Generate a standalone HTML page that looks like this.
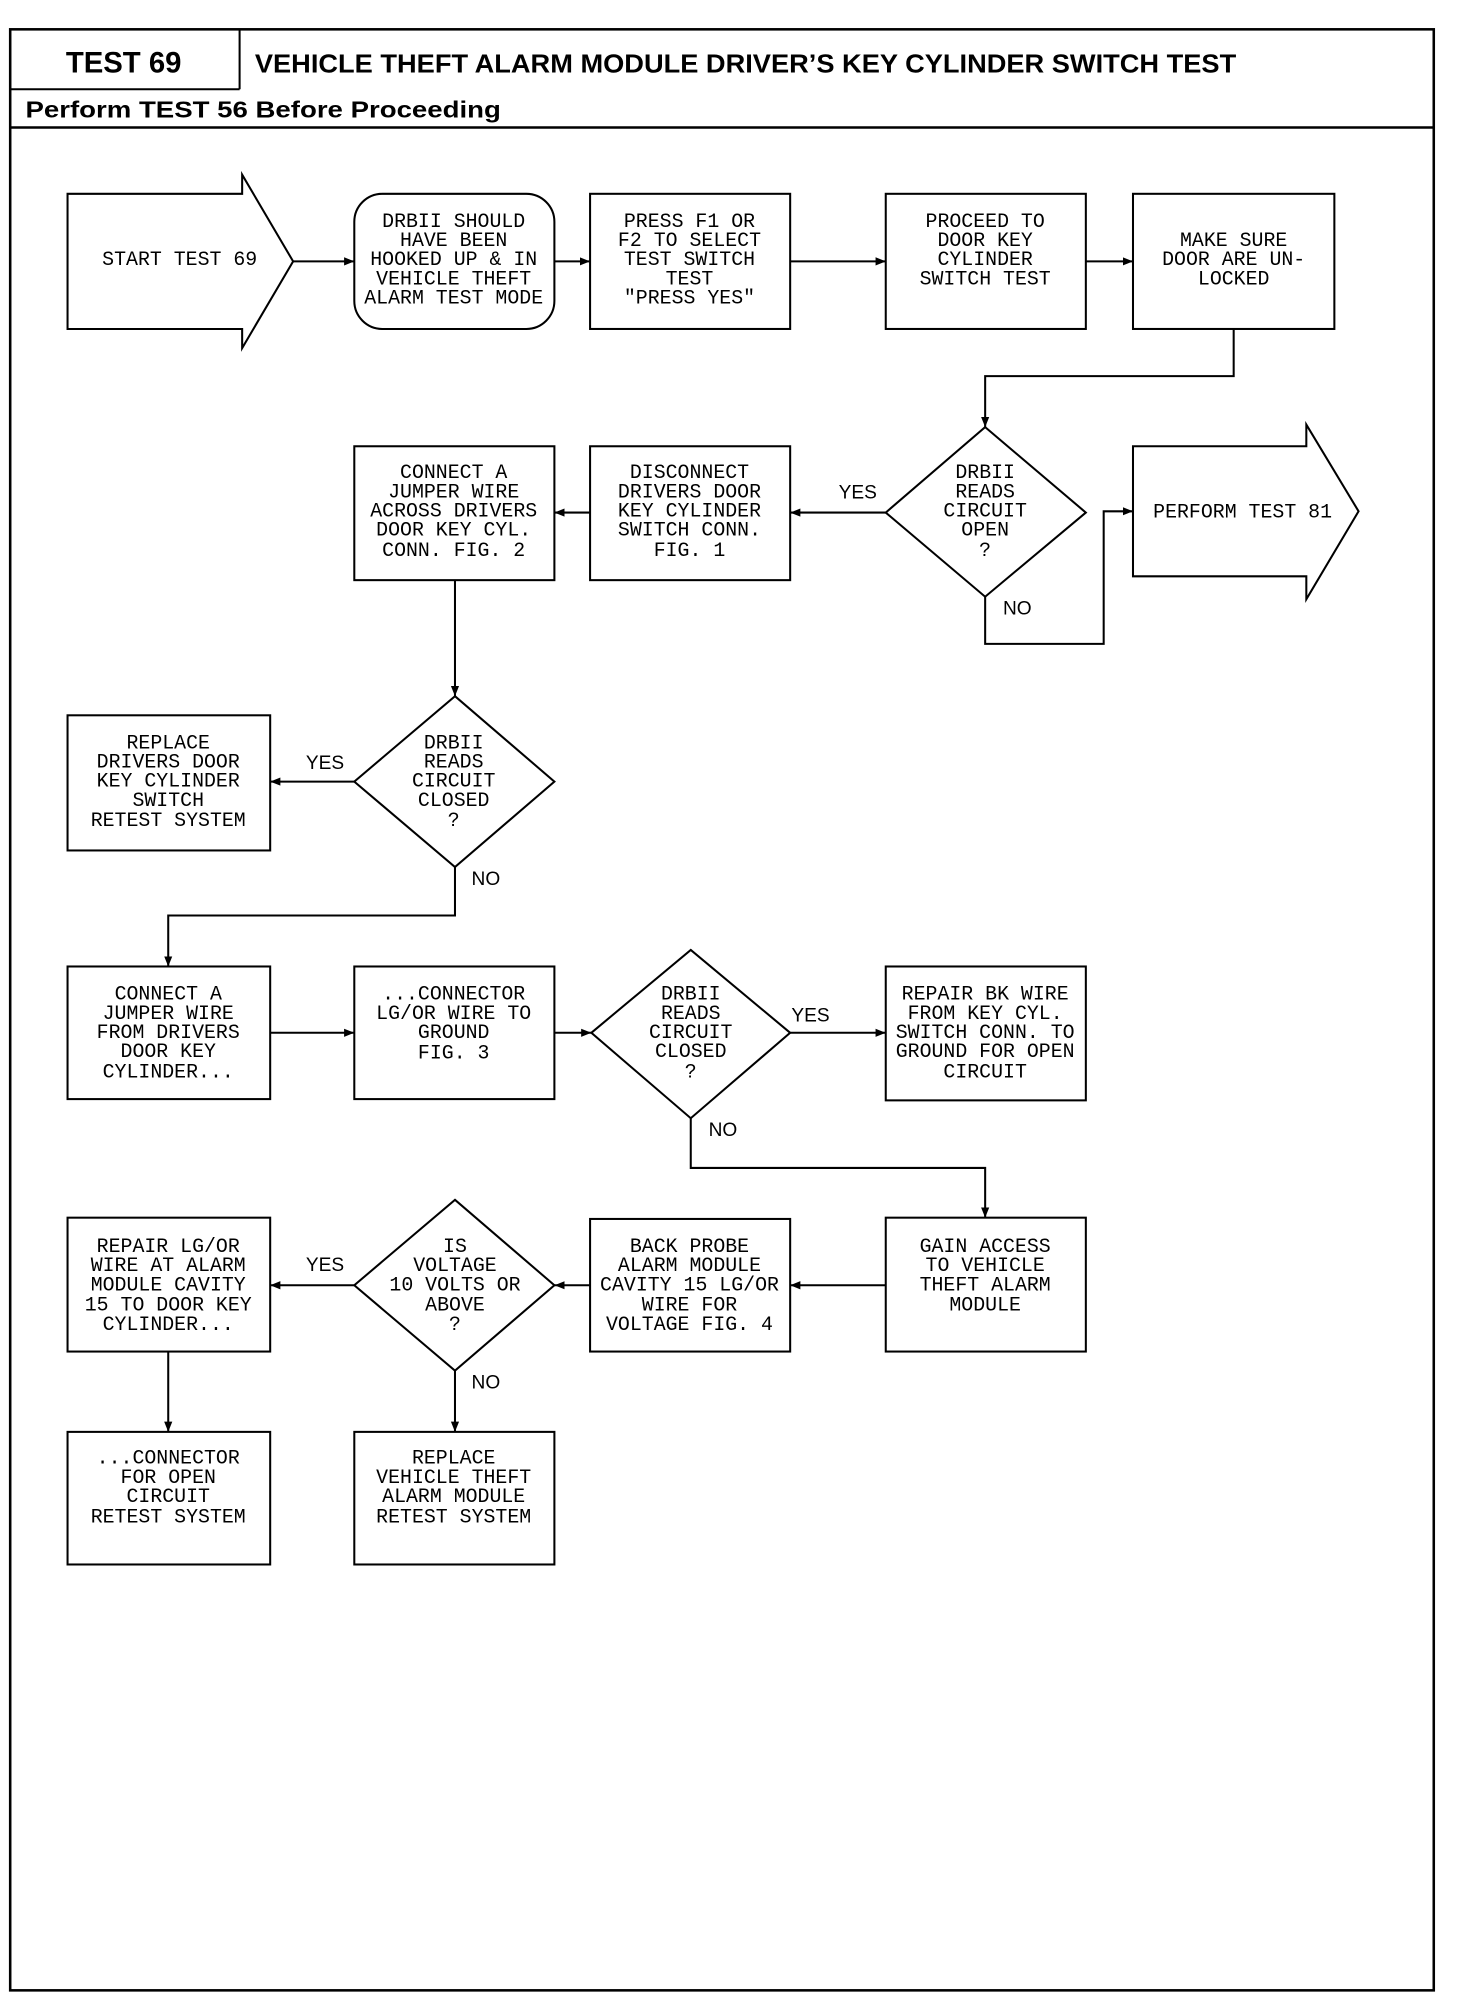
<!DOCTYPE html>
<html><head><meta charset="utf-8"><style>
html,body{margin:0;padding:0;background:#fff;}
svg{display:block;}
.t{font-family:"Liberation Mono",monospace;font-size:15.6px;fill:#000;text-anchor:middle;}
.l{font-family:"Liberation Sans",sans-serif;font-size:15px;fill:#000;}
</style></head><body>
<svg width="1472" height="1998" viewBox="0 0 1155 1567" preserveAspectRatio="none" xmlns="http://www.w3.org/2000/svg">
<defs><marker id="a" viewBox="0 0 10 10" refX="10" refY="5" markerWidth="8" markerHeight="8" markerUnits="userSpaceOnUse" orient="auto"><path d="M0,1 L10,5 L0,9 Z" fill="#000"/></marker></defs>
<g fill="none" stroke="#000" stroke-width="1.6">
<rect x="8" y="23" width="1117" height="1538" stroke-width="2"/>
<line x1="8" y1="70" x2="188" y2="70"/>
<line x1="188" y1="23" x2="188" y2="70"/>
<line x1="8" y1="100" x2="1125" y2="100" stroke-width="2"/>
<path d="M53,152 H190 V137 L230,205 L190,273 V258 H53 Z"/>
<rect x="278" y="152" width="157" height="106" rx="22"/>
<rect x="463" y="152" width="157" height="106"/>
<rect x="695" y="152" width="157" height="106"/>
<rect x="889" y="152" width="158" height="106"/>
<line x1="230" y1="205" x2="278" y2="205" marker-end="url(#a)"/>
<line x1="435" y1="205" x2="463" y2="205" marker-end="url(#a)"/>
<line x1="620" y1="205" x2="695" y2="205" marker-end="url(#a)"/>
<line x1="852" y1="205" x2="889" y2="205" marker-end="url(#a)"/>
<path d="M968,258 V295 H773 V335" marker-end="url(#a)"/>
<path d="M773,335 L852,402 L773,468 L695,402 Z"/>
<path d="M889,350 H1025 V333 L1066,401 L1025,470 V452 H889 Z"/>
<path d="M773,468 V505 H866 V401 H889" marker-end="url(#a)"/>
<rect x="463" y="350" width="157" height="105"/>
<rect x="278" y="350" width="157" height="105"/>
<line x1="695" y1="402" x2="620" y2="402" marker-end="url(#a)"/>
<line x1="463" y1="402" x2="435" y2="402" marker-end="url(#a)"/>
<line x1="357" y1="455" x2="357" y2="546" marker-end="url(#a)"/>
<path d="M357,546 L435,613 L357,680 L278,613 Z"/>
<rect x="53" y="561" width="159" height="106"/>
<line x1="278" y1="613" x2="212" y2="613" marker-end="url(#a)"/>
<path d="M357,680 V718 H132 V758" marker-end="url(#a)"/>
<rect x="53" y="758" width="159" height="104"/>
<rect x="278" y="758" width="157" height="104"/>
<path d="M542,745 L620,810 L542,877 L464,810 Z"/>
<rect x="695" y="758" width="157" height="105"/>
<line x1="212" y1="810" x2="278" y2="810" marker-end="url(#a)"/>
<line x1="435" y1="810" x2="464" y2="810" marker-end="url(#a)"/>
<line x1="620" y1="810" x2="695" y2="810" marker-end="url(#a)"/>
<path d="M542,877 V916 H773 V955" marker-end="url(#a)"/>
<rect x="695" y="955" width="157" height="105"/>
<rect x="463" y="956" width="157" height="104"/>
<path d="M357,941 L435,1008 L357,1075 L278,1008 Z"/>
<rect x="53" y="955" width="159" height="105"/>
<line x1="695" y1="1008" x2="620" y2="1008" marker-end="url(#a)"/>
<line x1="463" y1="1008" x2="435" y2="1008" marker-end="url(#a)"/>
<line x1="278" y1="1008" x2="212" y2="1008" marker-end="url(#a)"/>
<line x1="132" y1="1060" x2="132" y2="1123" marker-end="url(#a)"/>
<line x1="357" y1="1075" x2="357" y2="1123" marker-end="url(#a)"/>
<rect x="53" y="1123" width="159" height="104"/>
<rect x="278" y="1123" width="157" height="104"/>
</g>
<text x="97" y="57" text-anchor="middle" style="font-family:'Liberation Sans',sans-serif;font-weight:bold;font-size:23px">TEST 69</text>
<text x="200" y="57" textLength="770" lengthAdjust="spacingAndGlyphs" style="font-family:'Liberation Sans',sans-serif;font-weight:bold;font-size:20px">VEHICLE THEFT ALARM MODULE DRIVER’S KEY CYLINDER SWITCH TEST</text>
<text x="20" y="92" textLength="373" lengthAdjust="spacingAndGlyphs" style="font-family:'Liberation Sans',sans-serif;font-weight:bold;font-size:18px">Perform TEST 56 Before Proceeding</text>
<g class="t">
<text x="141" y="208">START TEST 69</text>
<text x="975" y="406">PERFORM TEST 81</text>
</g>
<g class="t">
<text x="356" y="178">DRBII SHOULD</text><text x="356" y="193">HAVE BEEN</text><text x="356" y="208">HOOKED UP &amp; IN</text><text x="356" y="223">VEHICLE THEFT</text><text x="356" y="238">ALARM TEST MODE</text>
<text x="541" y="178">PRESS F1 OR</text><text x="541" y="193">F2 TO SELECT</text><text x="541" y="208">TEST SWITCH</text><text x="541" y="223">TEST</text><text x="541" y="238">"PRESS YES"</text>
<text x="773" y="178">PROCEED TO</text><text x="773" y="193">DOOR KEY</text><text x="773" y="208">CYLINDER</text><text x="773" y="223">SWITCH TEST</text>
<text x="968" y="193">MAKE SURE</text><text x="968" y="208">DOOR ARE UN-</text><text x="968" y="223">LOCKED</text>
<text x="773" y="375">DRBII</text><text x="773" y="390">READS</text><text x="773" y="405">CIRCUIT</text><text x="773" y="420">OPEN</text><text x="773" y="436">?</text>
<text x="541" y="375">DISCONNECT</text><text x="541" y="390">DRIVERS DOOR</text><text x="541" y="405">KEY CYLINDER</text><text x="541" y="420">SWITCH CONN.</text><text x="541" y="436">FIG. 1</text>
<text x="356" y="375">CONNECT A</text><text x="356" y="390">JUMPER WIRE</text><text x="356" y="405">ACROSS DRIVERS</text><text x="356" y="420">DOOR KEY CYL.</text><text x="356" y="436">CONN. FIG. 2</text>
<text x="356" y="587">DRBII</text><text x="356" y="602">READS</text><text x="356" y="617">CIRCUIT</text><text x="356" y="632">CLOSED</text><text x="356" y="648">?</text>
<text x="132" y="587">REPLACE</text><text x="132" y="602">DRIVERS DOOR</text><text x="132" y="617">KEY CYLINDER</text><text x="132" y="632">SWITCH</text><text x="132" y="648">RETEST SYSTEM</text>
<text x="132" y="784">CONNECT A</text><text x="132" y="799">JUMPER WIRE</text><text x="132" y="814">FROM DRIVERS</text><text x="132" y="829">DOOR KEY</text><text x="132" y="845">CYLINDER...</text>
<text x="356" y="784">...CONNECTOR</text><text x="356" y="799">LG/OR WIRE TO</text><text x="356" y="814">GROUND</text><text x="356" y="830">FIG. 3</text>
<text x="542" y="784">DRBII</text><text x="542" y="799">READS</text><text x="542" y="814">CIRCUIT</text><text x="542" y="829">CLOSED</text><text x="542" y="845">?</text>
<text x="773" y="784">REPAIR BK WIRE</text><text x="773" y="799">FROM KEY CYL.</text><text x="773" y="814">SWITCH CONN. TO</text><text x="773" y="829">GROUND FOR OPEN</text><text x="773" y="845">CIRCUIT</text>
<text x="773" y="982">GAIN ACCESS</text><text x="773" y="997">TO VEHICLE</text><text x="773" y="1012">THEFT ALARM</text><text x="773" y="1028">MODULE</text>
<text x="541" y="982">BACK PROBE</text><text x="541" y="997">ALARM MODULE</text><text x="541" y="1012">CAVITY 15 LG/OR</text><text x="541" y="1028">WIRE FOR</text><text x="541" y="1043">VOLTAGE FIG. 4</text>
<text x="357" y="982">IS</text><text x="357" y="997">VOLTAGE</text><text x="357" y="1012">10 VOLTS OR</text><text x="357" y="1028">ABOVE</text><text x="357" y="1043">?</text>
<text x="132" y="982">REPAIR LG/OR</text><text x="132" y="997">WIRE AT ALARM</text><text x="132" y="1012">MODULE CAVITY</text><text x="132" y="1028">15 TO DOOR KEY</text><text x="132" y="1043">CYLINDER...</text>
<text x="132" y="1148">...CONNECTOR</text><text x="132" y="1163">FOR OPEN</text><text x="132" y="1178">CIRCUIT</text><text x="132" y="1194">RETEST SYSTEM</text>
<text x="356" y="1148">REPLACE</text><text x="356" y="1163">VEHICLE THEFT</text><text x="356" y="1178">ALARM MODULE</text><text x="356" y="1194">RETEST SYSTEM</text>
</g>
<g class="l">
<text x="658" y="391">YES</text><text x="787" y="482">NO</text>
<text x="240" y="603">YES</text><text x="370" y="694">NO</text>
<text x="621" y="801">YES</text><text x="556" y="891">NO</text>
<text x="240" y="997">YES</text><text x="370" y="1089">NO</text>
</g>
</svg>
</body></html>
